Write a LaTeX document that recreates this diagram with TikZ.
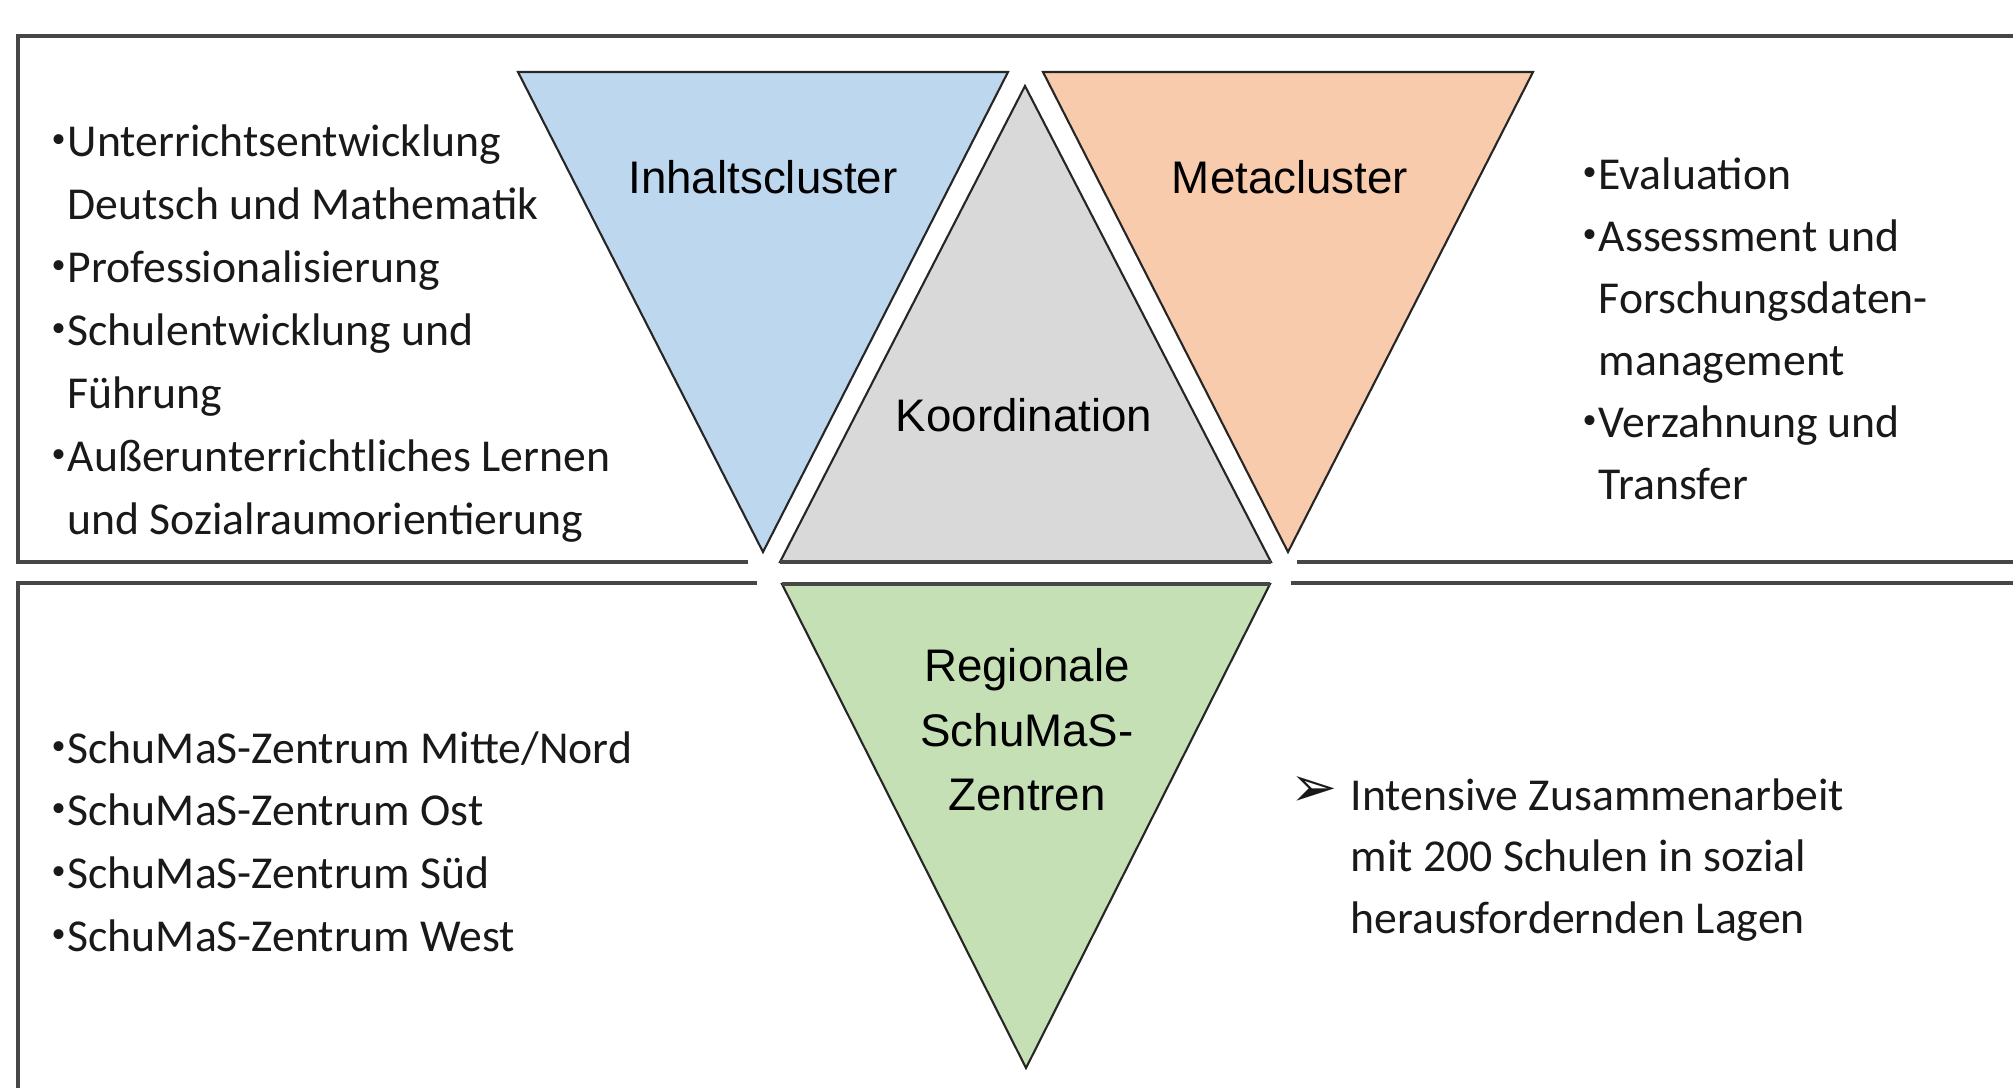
\documentclass[tikz,border=0pt]{standalone}
\usepackage{fontspec}
\setmainfont{Carlito}
\newfontfamily\arialfont{Liberation Sans}
\newfontfamily\symfont{DejaVu Sans}
\definecolor{inhaltblau}{RGB}{189,215,238}
\definecolor{metaorange}{RGB}{248,203,173}
\definecolor{koordgrau}{RGB}{217,217,217}
\definecolor{regiogruen}{RGB}{197,224,180}
\definecolor{rahmengrau}{RGB}{70,70,70}
\tikzset{
  rahmen/.style={draw=rahmengrau, line width=0.35mm},
  dreieck/.style={draw=black!85, line width=0.6pt, line join=miter},
  liste/.style={anchor=base west, inner sep=0pt, font=\fontsize{13}{16}\selectfont, text=black!90},
  titel/.style={anchor=base, inner sep=0pt, font=\arialfont\fontsize{13}{16}\selectfont},
}
\newcommand{\bul}{\makebox[1.6mm][l]{\raisebox{0.9mm}{\fontsize{8}{8}\selectfont•}}}
\newcommand{\ein}{\hspace*{1.6mm}}

\begin{document}
\begin{tikzpicture}[x=0.1mm, y=-0.1mm]
  \useasboundingbox (0,0) rectangle (2013,1088);
  \xdef\zl{63}
  % Dreiecke
  \filldraw[dreieck, fill=inhaltblau] (518,72) -- (1008,72) -- (763,552) -- cycle;
  \filldraw[dreieck, fill=koordgrau] (1025,86) -- (1271,562) -- (780,562) -- cycle;
  \filldraw[dreieck, fill=metaorange] (1043,72) -- (1533,72) -- (1288,552) -- cycle;
  \filldraw[dreieck, fill=regiogruen] (782,584) -- (1270,584) -- (1026,1068) -- cycle;
  % Rahmen
  \draw[rahmen] (2020,36) -- (18,36) -- (18,562) -- (748,562);
  \draw[rahmen] (780,562) -- (1271,562);
  \draw[rahmen] (1297,562) -- (2020,562);
  \draw[rahmen] (757,583) -- (18,583) -- (18,1095);
  \draw[rahmen] (782,584) -- (1270,584);
  \draw[rahmen] (1291,583) -- (2020,583);
  % Titel
  \node[titel] (inhalt) at (763,194) {Inhaltscluster};
  \node[titel] (meta) at (1290,194) {Metacluster};
  \node[titel] (koord) at (1024,432) {Koordination};
  \foreach \t [count=\i from 0] in {Regionale,SchuMaS-,Zentren}{
    \node[titel] (regio\i) at (1027,{682+64*\i}) {\t};
  }
  % Listen
  \foreach \t [count=\i from 0] in {\bul Unterrichtsentwicklung, \ein Deutsch und Mathematik,
      \bul Professionalisierung, \bul Schulentwicklung und, \ein Führung,
      \bul Außerunterrichtliches Lernen, \ein und Sozialraumorientierung}{
    \node[liste] (links\i) at (51,{157+\zl*\i}) {\t};
  }
  \foreach \t [count=\i from 0] in {\bul Evaluation, \bul Assessment und, \ein Forschungsdaten-,
      \ein management, \bul Verzahnung und, \ein Transfer}{
    \node[liste] (rechts\i) at (1582,{190+62*\i}) {\t};
  }
  \foreach \t [count=\i from 0] in {Mitte/Nord, Ost, Süd, West}{
    \node[liste] (zentrum\i) at (51,{763+62.7*\i}) {\bul SchuMaS-Zentrum \t};
  }
  \node[liste, font=\symfont\fontsize{16}{18}\selectfont] (pfeil) at (1290,807) {➢};
  \foreach \t [count=\i from 0] in {Intensive Zusammenarbeit, mit 200 Schulen in sozial,
      herausfordernden Lagen}{
    \node[liste] (koop\i) at (1350,{810+61.5*\i}) {\t};
  }
\end{tikzpicture}
\end{document}
